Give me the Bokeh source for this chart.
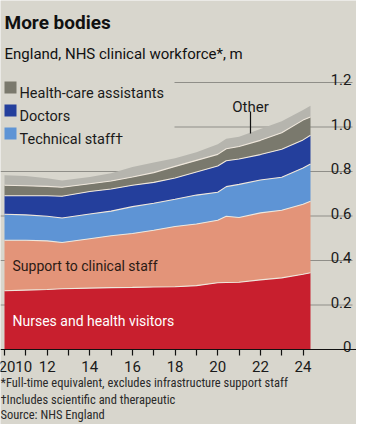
import numpy as np
from bokeh.plotting import figure
from bokeh.models import Label, FixedTicker, Range1d, ColumnDataSource
from bokeh.core.properties import value
from bokeh.embed import file_html
from bokeh.resources import INLINE

# ---------------- data (England, NHS clinical workforce, FTE, millions) ----------------
dates = [2010.0, 2011.0, 2012.0, 2012.7, 2014.0, 2015.0, 2016.0, 2017.0, 2018.0,
         2019.0, 2020.0, 2020.4, 2021.0, 2022.0, 2023.0, 2024.0, 2024.35]
nurses    = [0.264, 0.267, 0.270, 0.273, 0.276, 0.278, 0.279, 0.281, 0.282,
             0.287, 0.300, 0.301, 0.302, 0.313, 0.322, 0.338, 0.345]
support   = [0.227, 0.224, 0.218, 0.208, 0.222, 0.233, 0.242, 0.255, 0.271,
             0.277, 0.281, 0.298, 0.291, 0.301, 0.304, 0.315, 0.321]
technical = [0.117, 0.114, 0.111, 0.110, 0.111, 0.111, 0.121, 0.121, 0.122,
             0.130, 0.126, 0.133, 0.149, 0.148, 0.148, 0.163, 0.168]
doctors   = [0.083, 0.086, 0.092, 0.098, 0.101, 0.099, 0.096, 0.094, 0.096,
             0.104, 0.118, 0.116, 0.114, 0.114, 0.126, 0.126, 0.129]
hca       = [0.047, 0.045, 0.042, 0.040, 0.035, 0.036, 0.037, 0.044, 0.052,
             0.052, 0.052, 0.054, 0.056, 0.064, 0.074, 0.089, 0.082]
other     = [0.045, 0.044, 0.037, 0.030, 0.030, 0.035, 0.045, 0.045, 0.037,
             0.037, 0.045, 0.045, 0.044, 0.051, 0.052, 0.045, 0.051]

series_keys = ["nurses", "support", "technical", "doctors", "hca", "other"]
series_colors = ["#c81f2e", "#e39479", "#5e94d5", "#243f9c", "#7a796d", "#b6b5ae"]
legend_labels = ["Health-care assistants", "Doctors", "Technical staff\u2020"]
legend_colors = ["#7a796d", "#243f9c", "#5e94d5"]

y_ticks = [0.0, 0.2, 0.4, 0.6, 0.8, 1.0, 1.2]
y_tick_labels = ["0", "0.2", "0.4", "0.6", "0.8", "1.0", "1.2"]
x_ticks = list(range(2010, 2025))
x_tick_labels = {2010: "", 2012: "12", 2014: "14", 2016: "16", 2018: "18",
                 2020: "20", 2022: "22", 2024: "24"}

# ---------------- layout helpers ----------------
W, H = 356, 424
SX = 21.324          # px per year
SY = 222.5           # px per million
BASE_PX = 349        # pixel row of zero
X0 = 2010 - 4 / SX   # data x at left edge of canvas
X1 = X0 + W / SX


def fx(px):
    return X0 + px / SX


def fy(py):
    return (BASE_PX - py) / SY


BG = "#d8d6cd"
FONT = "Roboto"
NARROW = "Roboto Condensed, Liberation Sans Narrow, Arial Narrow, Roboto"

p = figure(width=W, height=H, output_backend="svg", toolbar_location=None,
           x_range=Range1d(X0, X1), y_range=Range1d(fy(H), fy(0)),
           min_border_left=0, min_border_right=0,
           min_border_top=0, min_border_bottom=0)
p.background_fill_color = BG
p.border_fill_color = BG
p.outline_line_color = None
p.grid.visible = False
p.yaxis.visible = False

# gridlines (top two start to the right of the legend)
grid_x0 = [fx(0) if t < 0.9 else fx(174) for t in y_ticks[1:]]
p.segment(x0=grid_x0, x1=[fx(352)] * len(y_ticks[1:]), y0=y_ticks[1:], y1=y_ticks[1:],
          line_color="#8f8e88", line_width=1)

# stacked areas
src = ColumnDataSource(dict(date=dates, nurses=nurses, support=support,
                            technical=technical, doctors=doctors, hca=hca, other=other))
p.varea_stack(stackers=series_keys, x="date", color=series_colors, source=src)

# light separator lines between layers
cum = np.cumsum(np.array([nurses, support, technical, doctors, hca]), axis=0)
for row in cum:
    p.line(dates, row, line_color="#efe7dc", line_width=1.1)

# y tick labels on the right, sitting on the gridlines
p.text(x=[fx(351)] * len(y_ticks), y=y_ticks, text=y_tick_labels,
       text_align="right", text_baseline="alphabetic", y_offset=-3,
       text_font=value(FONT), text_font_size="15px", text_color="#1a1a1a")

# x axis, fixed at zero
ax = p.xaxis[0]
ax.fixed_location = 0
ax.ticker = FixedTicker(ticks=x_ticks)
ax.major_label_overrides = {k: v for k, v in x_tick_labels.items()}
for yr in x_ticks:
    if yr not in x_tick_labels:
        ax.major_label_overrides[yr] = ""
ax.axis_line_color = "#111111"
ax.axis_line_width = 1.2
ax.major_tick_line_color = "#111111"
ax.major_tick_line_width = 1.2
ax.major_tick_out = 6
ax.major_tick_in = 0
ax.minor_tick_line_color = None
ax.major_label_standoff = 5
ax.major_label_text_font = FONT
ax.major_label_text_font_size = "15px"
ax.major_label_text_color = "#1a1a1a"

p.add_layout(Label(x=fx(-2), y=fy(360), text="2010", text_align="left",
                   text_baseline="top", text_font=FONT, text_font_size="15px",
                   text_color="#1a1a1a"))

# title / subtitle
p.add_layout(Label(x=fx(4), y=fy(22), text="More bodies", text_font=FONT,
                   text_baseline="alphabetic", text_font_style="bold",
                   text_font_size="19px", text_color="#111111"))
p.add_layout(Label(x=fx(4), y=fy(53), text="England, NHS clinical workforce*, m",
                   text_baseline="alphabetic", text_font=FONT,
                   text_font_size="15px", text_color="#111111"))

# legend
leg_base = [93, 116, 139]
p.scatter(x=[fx(10)] * 3, y=[fy(b - 6) for b in leg_base], marker="square", size=12,
          color=legend_colors, line_color=None)
p.text(x=[fx(19)] * 3, y=[fy(b) for b in leg_base], text=legend_labels,
       text_baseline="alphabetic", text_font=value(FONT), text_font_size="14.5px",
       text_color="#1a1a1a")

# in-area labels
p.add_layout(Label(x=fx(12), y=fy(265), text="Support to clinical staff",
                   text_baseline="alphabetic", text_font=FONT,
                   text_font_size="14px", text_color="#2b1a14"))
p.add_layout(Label(x=fx(12), y=fy(320), text="Nurses and health visitors",
                   text_baseline="alphabetic", text_font=FONT,
                   text_font_size="14px", text_color="#ffffff"))

# "Other" annotation
p.add_layout(Label(x=fx(250), y=fy(106), text="Other", text_align="center",
                   text_baseline="alphabetic", text_font=FONT,
                   text_font_size="15px", text_color="#1a1a1a"))
p.segment(x0=[fx(250)], x1=[fx(250)], y0=[fy(111)], y1=[fy(133)],
          line_color="#111111", line_width=1.2)

# footnotes
notes = ["*Full-time equivalent, excludes infrastructure support staff",
         "\u2020Includes scientific and therapeutic",
         "Source: NHS England"]
for txt, b in zip(notes, [382, 399, 414]):
    p.add_layout(Label(x=fx(0), y=fy(b), text=txt, text_font=NARROW,
                       text_baseline="alphabetic",
                       text_font_size="12.5px", text_color="#2a2a2a"))

open("out.html", "w").write(file_html(p, INLINE))
